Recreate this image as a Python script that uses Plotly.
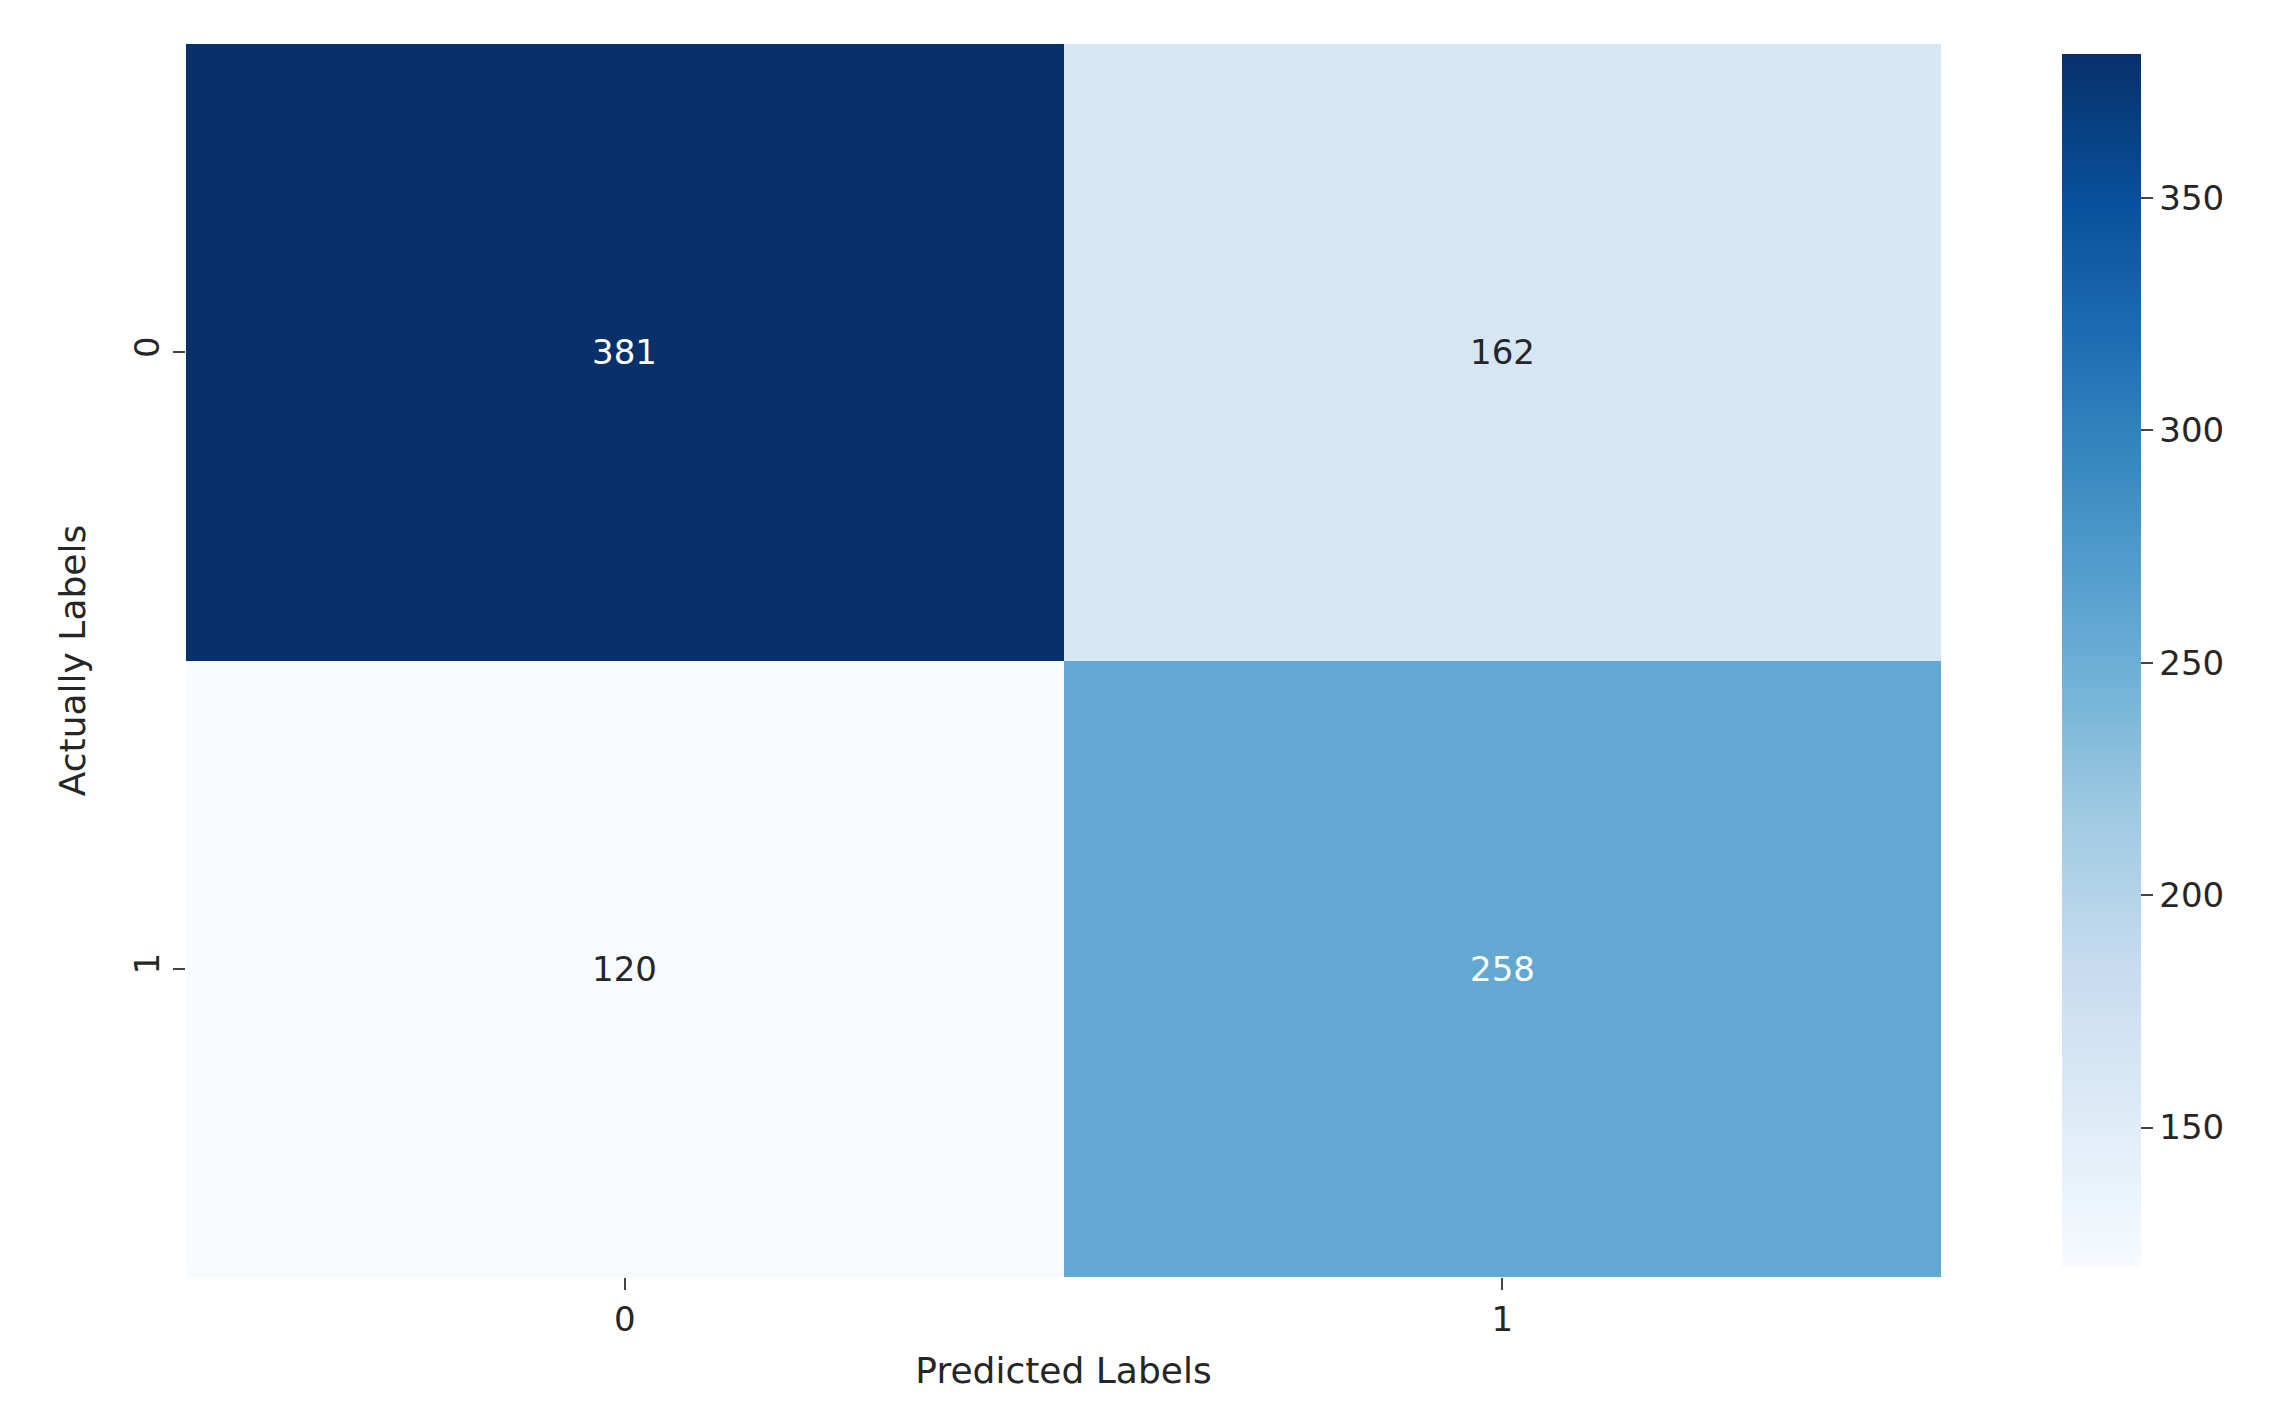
import plotly.graph_objects as go

pred_labels = ["0", "1"]
actual_labels = ["0", "1"]
counts = [[381, 162], [120, 258]]
cb_ticks = [150, 200, 250, 300, 350]

text_colors = [["white", "#262626"], ["#262626", "white"]]

fig = go.Figure(go.Heatmap(
    z=counts, x=pred_labels, y=actual_labels,
    colorscale="Blues", zmin=120, zmax=381,
    xgap=0, ygap=0,
    colorbar=dict(xref="container", x=2044/2284, xanchor="left", thickness=79,
                  len=1, yref="paper", y=0.5, yanchor="middle",
                  tickvals=cb_ticks, ticks="outside", ticklen=12, tickwidth=2,
                  outlinewidth=0, tickfont=dict(size=34, color="#262626")),
))
for i, row in enumerate(counts):
    for j, v in enumerate(row):
        fig.add_annotation(x=pred_labels[j], y=actual_labels[i], text=str(v),
                           showarrow=False, font=dict(size=34, color=text_colors[i][j]))

fig.update_layout(
    width=2284, height=1412,
    margin=dict(l=178, r=351, t=36, b=143),
    paper_bgcolor="white", plot_bgcolor="white",
    font=dict(family="DejaVu Sans", color="#262626"),
    xaxis=dict(title=dict(text="Predicted Labels", font=dict(size=36), standoff=20),
               tickfont=dict(size=34), ticks="outside", ticklen=12, tickwidth=2,
               showgrid=False, zeroline=False),
    yaxis=dict(title=dict(text="Actually Labels", font=dict(size=36), standoff=30),
               tickfont=dict(size=34), ticks="outside", ticklen=12, tickwidth=2,
               tickangle=-90, autorange="reversed", showgrid=False, zeroline=False),
)
fig.write_html("out.html")
